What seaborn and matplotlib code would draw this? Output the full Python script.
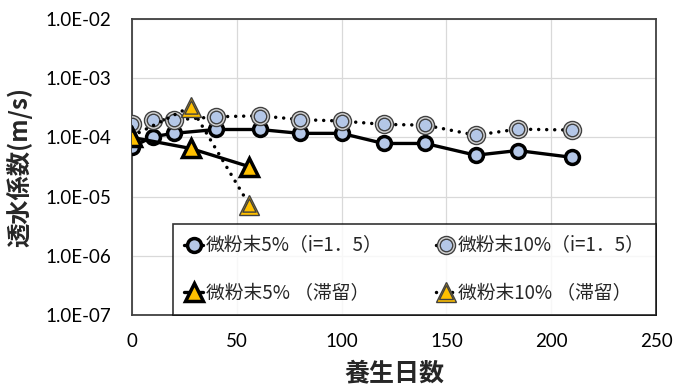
import matplotlib
matplotlib.use("Agg")
import matplotlib.pyplot as plt
import seaborn as sns
import pandas as pd
from matplotlib.lines import Line2D
from matplotlib.legend_handler import HandlerTuple
from matplotlib.ticker import FixedLocator, FuncFormatter

# curing days and permeability (m/s)
days_flow = [0, 10, 20, 40, 61, 80, 100, 120, 140, 164, 184, 210]
k_5pct_flow = [6.9e-5, 1.03e-4, 1.17e-4, 1.36e-4, 1.36e-4, 1.17e-4, 1.17e-4,
               7.9e-5, 7.9e-5, 5.0e-5, 6.0e-5, 4.6e-5]
k_10pct_flow = [1.68e-4, 2.0e-4, 1.96e-4, 2.23e-4, 2.32e-4, 2.0e-4, 1.89e-4,
                1.66e-4, 1.61e-4, 1.09e-4, 1.38e-4, 1.33e-4]
days_stag = [0, 28, 56]
k_5pct_stag = [1.0e-4, 6.5e-5, 3.2e-5]
k_10pct_stag = [1.05e-4, 3.3e-4, 7.2e-6]

labels = ["微粉末5%（i=1．5）", "微粉末10%（i=1．5）",
          "微粉末5% （滞留）", "微粉末10% （滞留）"]
x_ticks = [0, 50, 100, 150, 200, 250]
y_ticks = [1e-7, 1e-6, 1e-5, 1e-4, 1e-3, 1e-2]

sns.set_style("white")
plt.rcParams["font.family"] = ["Noto Sans CJK JP", "DejaVu Sans"]

BLUE = "#b4c7e7"
GOLD = "#ffc000"
RING = "#d9d9d9"
EDGE = "#404040"
DOT = (0, (0.01, 2.3))

# marker styles shared by the plot and the legend
S1 = dict(marker="o", ms=10, mfc=BLUE, mec="black", mew=2.5)
S2_OUT = dict(marker="o", ms=13, mfc=RING, mec=EDGE, mew=1.0)
S2_IN = dict(marker="o", ms=9.0, mfc=BLUE, mec=EDGE, mew=1.0)
S3 = dict(marker="^", ms=12.5, mfc=GOLD, mec="black", mew=2.5)
S4_OUT = dict(marker="^", ms=14.5, mfc=GOLD, mec=EDGE, mew=1.0)
S4_IN = dict(marker="^", ms=9.5, mfc=GOLD, mec=EDGE, mew=1.0)

fig = plt.figure(figsize=(6.76, 3.85), dpi=100)
W, H = 676, 385
ax = fig.add_axes([132 / W, 1 - 315 / H, 524 / W, 296 / H])

df1 = pd.DataFrame({"day": days_flow, "k": k_5pct_flow})
df2 = pd.DataFrame({"day": days_flow, "k": k_10pct_flow})
df3 = pd.DataFrame({"day": days_stag, "k": k_5pct_stag})
df4 = pd.DataFrame({"day": days_stag, "k": k_10pct_stag})

# 5% (i=1.5): solid line, blue circles with heavy outline
sns.lineplot(data=df1, x="day", y="k", ax=ax, color="black", lw=2.4,
             zorder=3, **S1)

# 10% (i=1.5): dotted line, double-ringed circles
sns.lineplot(data=df2, x="day", y="k", ax=ax, color="black", lw=2.5, ls=DOT,
             dash_capstyle="round", zorder=4, **S2_OUT)
sns.scatterplot(data=df2, x="day", y="k", ax=ax, marker="o",
                s=S2_IN["ms"] ** 2, color=BLUE, edgecolor=EDGE,
                linewidth=1.0, zorder=4.1)

# 10% stagnant: dotted line, double-ringed triangles
sns.lineplot(data=df4, x="day", y="k", ax=ax, color="black", lw=2.5, ls=DOT,
             dash_capstyle="round", zorder=4.5, **S4_OUT)
sns.scatterplot(data=df4, x="day", y="k", ax=ax, marker="^",
                s=S4_IN["ms"] ** 2, color=GOLD, edgecolor=EDGE,
                linewidth=1.0, zorder=4.6)

# 5% stagnant: solid line, gold triangles with heavy outline
sns.lineplot(data=df3, x="day", y="k", ax=ax, color="black", lw=2.4,
             zorder=5, **S3)

ax.set_yscale("log")
ax.set_xlim(0, 250)
ax.set_ylim(1e-7, 1e-2)
ax.xaxis.set_major_locator(FixedLocator(x_ticks))
ax.yaxis.set_major_locator(FixedLocator(y_ticks))
ax.yaxis.set_minor_locator(FixedLocator([]))
ax.yaxis.set_major_formatter(FuncFormatter(lambda v, p: f"{v:.1E}"))
ax.xaxis.set_major_formatter(FuncFormatter(lambda v, p: f"{v:g}"))
ax.grid(True, which="major", color="#d9d9d9", lw=0.9)
ax.set_axisbelow(True)
ax.tick_params(axis="both", length=0, labelsize=13.5, colors="black")
ax.tick_params(axis="y", pad=15)
ax.tick_params(axis="x", pad=13)
for t in ax.get_xticklabels() + ax.get_yticklabels():
    t.set_fontfamily(["Lato", "DejaVu Sans"])
for s in ax.spines.values():
    s.set_color(EDGE)
    s.set_linewidth(1.3)

ax.set_xlabel("養生日数", fontsize=18, fontweight="bold")
ax.set_ylabel("透水係数(m/s)", fontsize=17.5, fontweight="bold")
ax.xaxis.set_label_coords(0.5, -0.196)
ax.yaxis.set_label_coords(-0.215, 0.5)
ax.xaxis.label.set_va("center")
ax.yaxis.label.set_va("center")

# legend handles mirroring the series styles
h1 = Line2D([], [], color="black", lw=2.4, **S1)
h2 = (Line2D([], [], color="black", lw=2.5, ls=DOT, dash_capstyle="round",
             **S2_OUT),
      Line2D([], [], ls="none", **S2_IN))
h3 = Line2D([], [], color="black", lw=2.4, **S3)
h4 = (Line2D([], [], color="black", lw=2.5, ls=DOT, dash_capstyle="round",
             **S4_OUT),
      Line2D([], [], ls="none", **S4_IN))
x0 = (173 - 132) / 524
leg = ax.legend([h1, h3, h2, h4], [labels[0], labels[2], labels[1], labels[3]],
                ncol=2, loc="lower left", mode="expand",
                bbox_to_anchor=(x0, 0.0, 1.0 - x0, 0.3),
                borderaxespad=0, fontsize=13.5, frameon=True, fancybox=False,
                handlelength=1.0, handletextpad=0.15, columnspacing=1.5,
                labelspacing=1.4, borderpad=0.6,
                handler_map={tuple: HandlerTuple(ndivide=1)})
leg.get_frame().set_edgecolor("black")
leg.get_frame().set_linewidth(1.2)
leg.set_zorder(10)

fig.savefig("out.png", dpi=100)
